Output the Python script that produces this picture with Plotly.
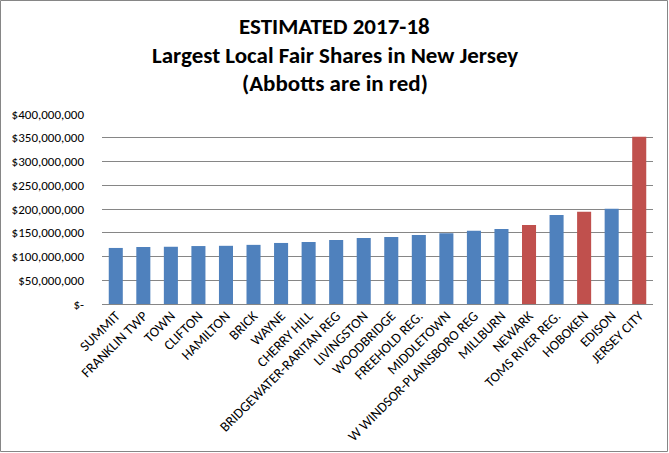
import plotly.graph_objects as go

districts = ["SUMMIT", "FRANKLIN TWP", "TOWN", "CLIFTON", "HAMILTON", "BRICK", "WAYNE",
             "CHERRY HILL", "BRIDGEWATER-RARITAN REG", "LIVINGSTON", "WOODBRIDGE",
             "FREEHOLD REG.", "MIDDLETOWN", "W WINDSOR-PLAINSBORO REG", "MILLBURN",
             "NEWARK", "TOMS RIVER REG.", "HOBOKEN", "EDISON", "JERSEY CITY"]
fair_share = [118e6, 120e6, 120.5e6, 122e6, 122.5e6, 124.5e6, 128.5e6, 130.5e6, 135e6,
              139e6, 141e6, 145.5e6, 149e6, 154e6, 158e6, 166.5e6, 187.5e6, 194e6,
              200.5e6, 352e6]
abbott = [False] * 15 + [True, False, True, False, True]

tick_vals = [0, 50e6, 100e6, 150e6, 200e6, 250e6, 300e6, 350e6, 400e6]
tick_text = ["$-", "$50,000,000", "$100,000,000", "$150,000,000", "$200,000,000",
             "$250,000,000", "$300,000,000", "$350,000,000", "$400,000,000"]

title_lines = ["ESTIMATED 2017-18", "Largest Local Fair Shares in New Jersey",
               "(Abbotts are in red)"]

BLUE = "#4F81BD"
RED = "#C0504D"
FONT = "Carlito, Calibri, Lato, sans-serif"

colors = [RED if a else BLUE for a in abbott]

fig = go.Figure(go.Bar(x=districts, y=fair_share, marker=dict(color=colors, line=dict(width=0)),
                       hoverinfo="x+y"))

W, H = 669, 453
L, R, T, B = 102, 16, 114, 149
pw, ph = W - L - R, H - T - B

def px_x(x):
    return (x - L) / pw

def px_y(y):
    return (H - B - y) / ph

title_mid_px = [26, 55, 83]
annotations = [dict(text=line, xref="paper", yref="paper", x=px_x(W / 2), y=px_y(ypx),
                    xanchor="center", yanchor="middle", showarrow=False,
                    font=dict(family=FONT, size=23, color="#000000", weight="bold"))
               for line, ypx in zip(title_lines, title_mid_px)]

fig.update_layout(
    width=W, height=H,
    margin=dict(l=L, r=R, t=T, b=B, autoexpand=False),
    paper_bgcolor="white", plot_bgcolor="white",
    bargap=0.49,
    showlegend=False,
    font=dict(family=FONT, color="#000000", size=12),
    annotations=annotations,
    xaxis=dict(
        range=[-0.5, len(districts) - 0.5],
        tickangle=-45, showgrid=False, showline=False, ticks="",
        tickfont=dict(family=FONT, size=14, color="#000000"),
    ),
    yaxis=dict(
        range=[0, 400e6], tickvals=tick_vals, ticktext=tick_text,
        showgrid=True, gridcolor="#868686", gridwidth=1,
        zeroline=True, zerolinecolor="#868686", zerolinewidth=1,
        showline=False, ticks="", ticklabelstandoff=17,
        tickfont=dict(family=FONT, size=13, color="#000000"),
    ),
    shapes=[dict(type="rect", xref="paper", yref="paper",
                 x0=px_x(0.5), x1=px_x(W - 1.5), y0=px_y(H - 1.5), y1=px_y(0.5),
                 line=dict(color="#868686", width=1), fillcolor="rgba(0,0,0,0)", layer="below")],
)

fig.write_html("out.html", config={"displayModeBar": False},
               post_script="document.body.style.margin='0';document.body.style.padding='0';")
